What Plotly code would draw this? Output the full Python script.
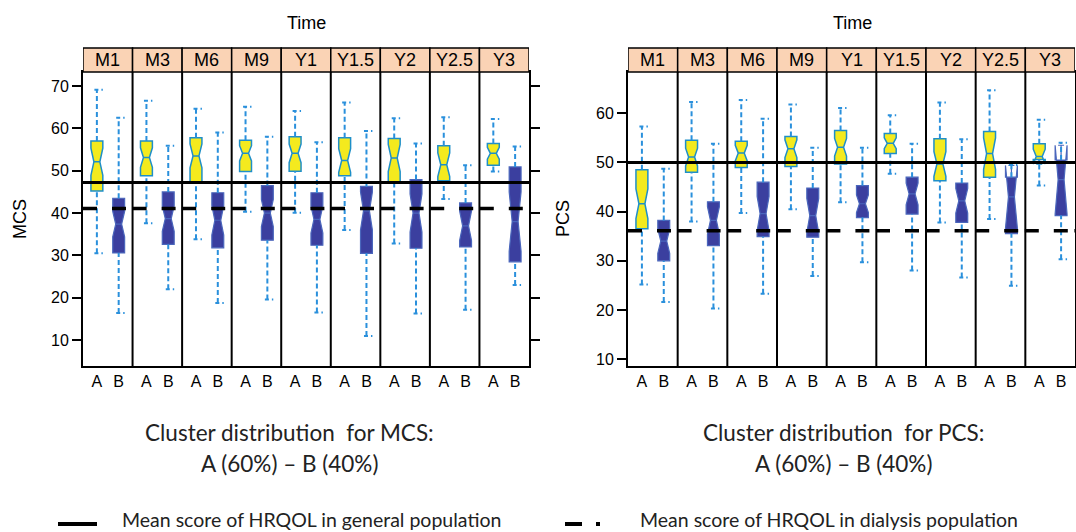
import plotly.graph_objects as go

# ---------------- data ----------------
TIMEPOINTS = ["M1", "M3", "M6", "M9", "Y1", "Y1.5", "Y2", "Y2.5", "Y3"]
CLUSTERS = ["A", "B"]

# MCS, cluster A
MCS_A_LOW = [30.5, 37.6, 33.8, 40.3, 40.1, 36.0, 32.8, 43.3, 49.8]
MCS_A_Q1 = [45.2, 48.8, 47.4, 49.8, 49.9, 48.8, 47.4, 47.6, 51.3]
MCS_A_MED = [52.1, 53.1, 53.5, 54.1, 54.1, 52.4, 53.0, 51.4, 54.1]
MCS_A_Q3 = [57.0, 57.0, 57.8, 57.2, 58.0, 57.8, 57.6, 55.9, 56.4]
MCS_A_HIGH = [69.1, 66.5, 64.6, 65.1, 64.1, 66.1, 62.4, 62.6, 62.2]
MCS_A_NOTCH = [3.2, 2.3, 2.8, 1.8, 2.2, 2.8, 3.2, 2.8, 1.4]

# MCS, cluster B
MCS_B_LOW = [16.4, 22.0, 18.8, 19.6, 16.5, 11.0, 16.3, 17.2, 23.0]
MCS_B_Q1 = [30.6, 32.6, 31.8, 33.6, 32.4, 30.5, 31.7, 32.0, 28.5]
MCS_B_MED = [37.4, 38.7, 38.3, 40.0, 38.5, 40.5, 40.0, 37.0, 38.0]
MCS_B_Q3 = [43.5, 45.0, 44.8, 46.5, 44.8, 46.3, 47.9, 42.4, 50.9]
MCS_B_HIGH = [62.5, 55.9, 59.0, 58.0, 56.7, 59.4, 56.4, 51.3, 55.7]
MCS_B_NOTCH = [3.0, 3.0, 3.5, 3.2, 3.2, 4.5, 4.5, 3.5, 7.0]

# PCS, cluster A
PCS_A_LOW = [25.2, 38.0, 39.7, 40.5, 41.9, 47.7, 37.8, 38.5, 45.3]
PCS_A_Q1 = [36.5, 48.0, 49.0, 49.2, 49.7, 51.8, 46.3, 47.0, 50.6]
PCS_A_MED = [41.6, 51.1, 51.9, 52.8, 53.1, 53.9, 49.7, 51.8, 51.2]
PCS_A_Q3 = [48.5, 54.5, 54.3, 55.3, 56.5, 55.9, 54.8, 56.3, 53.8]
PCS_A_HIGH = [57.3, 62.3, 62.7, 61.8, 61.1, 59.6, 62.2, 64.7, 58.7]
PCS_A_NOTCH = [3.0, 1.8, 1.6, 1.8, 1.8, 1.1, 2.5, 3.2, 1.5]

# PCS, cluster B
PCS_B_LOW = [21.6, 20.3, 23.3, 26.9, 29.7, 28.0, 26.6, 24.9, 30.3]
PCS_B_Q1 = [30.0, 33.1, 34.9, 34.8, 38.8, 39.5, 37.8, 35.5, 39.2]
PCS_B_MED = [34.0, 38.2, 39.6, 39.2, 41.6, 43.6, 42.2, 43.0, 46.5]
PCS_B_Q3 = [38.2, 42.0, 46.0, 44.8, 45.3, 47.0, 45.8, 47.0, 50.5]
PCS_B_HIGH = [48.7, 53.8, 58.9, 53.0, 53.0, 53.8, 54.7, 49.5, 54.0]
PCS_B_NOTCH = [2.5, 2.8, 3.5, 3.5, 1.8, 2.2, 2.5, 6.4, 7.0]

# reference means
MCS_GENERAL = 47.2
MCS_DIALYSIS = 41.1
PCS_GENERAL = 50.0
PCS_DIALYSIS = 36.1

MCS_TICKS = [10, 20, 30, 40, 50, 60, 70]
PCS_TICKS = [10, 20, 30, 40, 50, 60]

# ---------------- styling ----------------
W, H = 1076, 532
A_OFF, B_OFF = 0.28, 0.72
BOX_W = 0.24
A_FILL, A_LINE = "#F4EA1E", "#1E8FC8"
B_FILL, B_LINE = "#3B3F9F", "#4A66BC"
WHISK = "#2A90DC"
STRIP = "#FAD3B5"
FONT = "Liberation Sans, Arial, sans-serif"
TXT_FONT = "Lato, Noto Sans, sans-serif"
TXT_SIZE = 22.5
LEG_SIZE = 19.5

PANEL_TOP = 72
PANEL_BOT = 366
STRIP_TOP = 48


def py(p):
    return 1 - p / H


def px(p):
    return p / W


fig = go.Figure()

n = len(TIMEPOINTS)
panels = [
    ("x", "y", (MCS_A_LOW, MCS_A_Q1, MCS_A_MED, MCS_A_Q3, MCS_A_HIGH, MCS_A_NOTCH),
     (MCS_B_LOW, MCS_B_Q1, MCS_B_MED, MCS_B_Q3, MCS_B_HIGH, MCS_B_NOTCH),
     MCS_GENERAL, MCS_DIALYSIS),
    ("x2", "y2", (PCS_A_LOW, PCS_A_Q1, PCS_A_MED, PCS_A_Q3, PCS_A_HIGH, PCS_A_NOTCH),
     (PCS_B_LOW, PCS_B_Q1, PCS_B_MED, PCS_B_Q3, PCS_B_HIGH, PCS_B_NOTCH),
     PCS_GENERAL, PCS_DIALYSIS),
]

for xa, ya, statsA, statsB, gen, dia in panels:
    for stats, off, fill, line, lw in [(statsA, A_OFF, A_FILL, A_LINE, 1.5),
                                        (statsB, B_OFF, B_FILL, B_LINE, 1.2)]:
        low, q1, med, q3, high, notch = stats
        pos = [i + off for i in range(n)]
        # whiskers (dashed) + caps
        wx, wy = [], []
        cx, cy = [], []
        for p, lo, a, b, hi in zip(pos, low, q1, q3, high):
            wx += [p, p, None, p, p, None]
            wy += [b, hi, None, lo, a, None]
            cx += [p - 0.05, p + 0.12, None, p - 0.05, p + 0.12, None]
            cy += [hi, hi, None, lo, lo, None]
        fig.add_trace(go.Scatter(x=wx, y=wy, mode="lines", xaxis=xa, yaxis=ya,
                                 line=dict(color=WHISK, width=2, dash="5px,3px"),
                                 hoverinfo="skip", showlegend=False))
        fig.add_trace(go.Scatter(x=cx, y=cy, mode="lines", xaxis=xa, yaxis=ya,
                                 line=dict(color=WHISK, width=2, dash="4px,3px"),
                                 hoverinfo="skip", showlegend=False))
        fig.add_trace(go.Box(x=pos, q1=q1, median=med, q3=q3,
                             lowerfence=q1, upperfence=q3, notchspan=notch,
                             notched=True, notchwidth=0.25, width=BOX_W,
                             boxpoints=False, fillcolor=fill,
                             line=dict(color=line, width=lw),
                             xaxis=xa, yaxis=ya, showlegend=False))
    # reference lines
    fig.add_trace(go.Scatter(x=[0, n], y=[gen, gen], mode="lines", xaxis=xa, yaxis=ya,
                             line=dict(color="black", width=3),
                             hoverinfo="skip", showlegend=False))
    fig.add_trace(go.Scatter(x=[0, n], y=[dia, dia], mode="lines", xaxis=xa, yaxis=ya,
                             line=dict(color="black", width=3.5, dash="14px,15px,14px,6.6px"),
                             hoverinfo="skip", showlegend=False))

shapes = []
annotations = []
for xa, ya in [("x", "y"), ("x2", "y2")]:
    for i in range(1, n):
        shapes.append(dict(type="line", xref=xa, yref=ya + " domain", x0=i, x1=i, y0=0, y1=1,
                           line=dict(color="black", width=2), layer="above"))
    for i, lab in enumerate(TIMEPOINTS):
        shapes.append(dict(type="rect", xref=xa, yref="paper", x0=i, x1=i + 1,
                           y0=py(PANEL_TOP), y1=py(STRIP_TOP),
                           fillcolor=STRIP, line=dict(color="black", width=1.5)))
        annotations.append(dict(x=i + 0.5, y=(py(PANEL_TOP) + py(STRIP_TOP)) / 2, xref=xa, yref="paper",
                                text=lab, showarrow=False, font=dict(family=FONT, size=18, color="black"),
                                xanchor="center", yanchor="middle"))

# Titles
for cx_, t in [(306, "Time"), (852, "Time")]:
    annotations.append(dict(x=px(cx_), y=py(23), xref="paper", yref="paper", text=t, showarrow=False,
                            font=dict(family=FONT, size=18, color="black"),
                            xanchor="center", yanchor="middle"))
for cx_, t in [(20, "MCS"), (563, "PCS")]:
    annotations.append(dict(x=px(cx_), y=py(219), xref="paper", yref="paper", text=t, showarrow=False,
                            textangle=-90, font=dict(family=FONT, size=18, color="black"),
                            xanchor="center", yanchor="middle"))

# Cluster distribution texts
for cx_, t in [(289, "Cluster distribution\u00a0 for MCS:"), (843, "Cluster distribution\u00a0 for PCS:")]:
    annotations.append(dict(x=px(cx_), y=py(432), xref="paper", yref="paper", text=t, showarrow=False,
                            font=dict(family=TXT_FONT, size=TXT_SIZE, color="#222"),
                            xanchor="center", yanchor="middle"))
    annotations.append(dict(x=px(cx_), y=py(463), xref="paper", yref="paper", text="A (60%) \u2013 B (40%)",
                            showarrow=False, font=dict(family=TXT_FONT, size=TXT_SIZE, color="#222"),
                            xanchor="center", yanchor="middle"))

# Legend
shapes.append(dict(type="line", xref="paper", yref="paper", x0=px(58), x1=px(97), y0=py(524), y1=py(524),
                   line=dict(color="black", width=4)))
shapes.append(dict(type="line", xref="paper", yref="paper", x0=px(565), x1=px(582), y0=py(524), y1=py(524),
                   line=dict(color="black", width=4)))
shapes.append(dict(type="rect", xref="paper", yref="paper", x0=px(596), x1=px(600), y0=py(526), y1=py(522),
                   fillcolor="black", line=dict(width=0)))
annotations.append(dict(x=px(120), y=py(519), xref="paper", yref="paper",
                        text="Mean score of HRQOL in general population", showarrow=False,
                        font=dict(family=TXT_FONT, size=LEG_SIZE, color="#222"), xanchor="left", yanchor="middle"))
annotations.append(dict(x=px(638), y=py(519), xref="paper", yref="paper",
                        text="Mean score of HRQOL in dialysis population", showarrow=False,
                        font=dict(family=TXT_FONT, size=LEG_SIZE, color="#222"), xanchor="left", yanchor="middle"))

tickvals = []
ticktext = []
for i in range(n):
    tickvals += [i + A_OFF, i + B_OFF]
    ticktext += CLUSTERS

xcommon = dict(range=[0, n], tickvals=tickvals, ticktext=ticktext, ticks="", showgrid=False,
               zeroline=False, showline=True, linecolor="black", linewidth=2, mirror=True,
               tickfont=dict(family=FONT, size=16, color="black"), automargin=False, fixedrange=True)
ycommon = dict(showgrid=False, zeroline=False, showline=True, linecolor="black", linewidth=2,
               mirror="ticks", ticks="outside", ticklen=9, tickwidth=1.5, tickcolor="black",
               tickfont=dict(family=FONT, size=16, color="black"), automargin=False)

fig.update_layout(
    width=W, height=H, autosize=False,
    margin=dict(l=0, r=0, t=0, b=0),
    paper_bgcolor="white", plot_bgcolor="white",
    boxmode="overlay",
    xaxis=dict(domain=[px(83), px(529)], anchor="y", **xcommon),
    xaxis2=dict(domain=[px(628), px(1075)], anchor="y2", **xcommon),
    yaxis=dict(domain=[py(PANEL_BOT), py(PANEL_TOP)], anchor="x", range=[3.9, 73.3],
               tickvals=MCS_TICKS, **ycommon),
    yaxis2=dict(domain=[py(PANEL_BOT), py(PANEL_TOP)], anchor="x2", range=[8.6, 68.4],
                tickvals=PCS_TICKS, **ycommon),
    shapes=shapes,
    annotations=annotations,
    showlegend=False,
)

fig.write_html(
    "out.html",
    config={"displayModeBar": False},
    post_script="document.body.style.margin='0';document.body.style.overflow='hidden';",
)
